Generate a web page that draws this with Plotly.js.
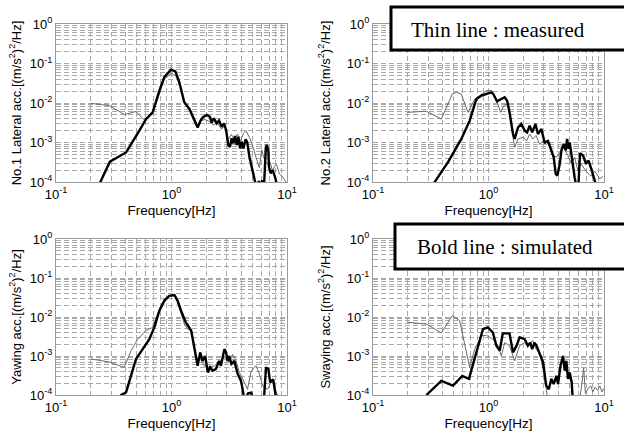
<!DOCTYPE html>
<html>
<head>
<meta charset="utf-8">
<script src="https://cdn.plot.ly/plotly-3.0.1.min.js"></script>
<style>html,body{margin:0;padding:0;background:#fff;}#chart{width:624px;height:439px;}</style>
</head>
<body>
<div id="chart"></div>
<script>
// ---------- Data ----------
// Plot 1: No.1 Lateral acc.
const p1SimF = [0.22, 0.242, 0.293, 0.404, 0.527, 0.601, 0.687, 0.785, 0.867, 0.99, 1.08, 1.17, 1.29, 1.43, 1.58, 1.685, 1.77, 1.86, 2.02, 2.15, 2.23, 2.33, 2.46, 2.58, 2.72, 2.85, 2.97, 3.10, 3.21, 3.32, 3.43, 3.55, 3.67, 3.79, 3.92, 4.05, 4.19, 4.39, 4.53, 4.72, 4.94, 5.11, 5.28, 5.45, 5.7, 5.9, 6.1, 6.3, 6.55, 6.67, 6.89, 6.98, 7.22, 7.51, 7.87, 8.14, 8.4];
const p1SimV = [6e-5, 1e-4, 3.27e-4, 5.6e-4, 2.0e-3, 3.9e-3, 5.8e-3, 2.05e-2, 4.5e-2, 7.0e-2, 6.3e-2, 3.3e-2, 1.04e-2, 7.0e-3, 3.6e-3, 2.4e-3, 3.4e-3, 4.3e-3, 5.0e-3, 4.5e-3, 3.2e-3, 4.1e-3, 3.05e-3, 3.6e-3, 2.5e-3, 3.05e-3, 2.07e-3, 8.6e-4, 7.8e-4, 1.28e-3, 9.5e-4, 1.46e-3, 8.6e-4, 1.4e-3, 7.1e-4, 1.05e-3, 7.1e-4, 1.2e-3, 1.0e-3, 4.4e-4, 2.45e-4, 1.5e-4, 1.1e-4, 7e-5, 1.05e-4, 8e-5, 1.1e-4, 6e-5, 7.1e-4, 8.7e-4, 6.5e-4, 2.4e-4, 1.66e-4, 2e-4, 1.35e-4, 9e-5, 6e-5];
const p1MeasF = [0.2, 0.29, 0.39, 0.493, 0.57, 0.64, 0.687, 0.785, 0.867, 0.99, 1.09, 1.19, 1.29, 1.43, 1.58, 1.685, 1.8, 1.95, 2.1, 2.3, 2.5, 2.7, 2.9, 3.1, 3.3, 3.5, 3.74, 3.95, 4.2, 4.42, 4.72, 5.0, 5.39, 5.76, 6.04, 6.28, 6.6, 6.9, 7.13, 7.5, 7.8, 8.1, 8.6, 9.1, 9.6, 10];
const p1MeasV = [9.8e-3, 8.6e-3, 5.1e-3, 6.1e-3, 3.9e-3, 4.5e-3, 5.5e-3, 1.86e-2, 4.0e-2, 5.6e-2, 4.9e-2, 2.75e-2, 1.05e-2, 7.8e-3, 4.3e-3, 2.7e-3, 3.6e-3, 3.8e-3, 3.5e-3, 2.8e-3, 3.2e-3, 2.2e-3, 2.6e-3, 1.2e-3, 1.6e-3, 1.2e-3, 1.64e-3, 1.1e-3, 1.7e-3, 2.0e-3, 1.35e-3, 9e-4, 4.2e-4, 2.3e-4, 6.5e-4, 4.2e-4, 3.1e-4, 2.8e-4, 3.2e-4, 1.9e-4, 2.5e-4, 2.8e-4, 1.6e-4, 1.4e-4, 1.1e-4, 9e-5];

// Plot 2: No.2 Lateral acc.
const p2SimF = [0.3, 0.342, 0.446, 0.582, 0.687, 0.785, 0.867, 0.957, 1.06, 1.1, 1.185, 1.29, 1.38, 1.45, 1.52, 1.63, 1.685, 1.8, 1.92, 2.06, 2.16, 2.27, 2.39, 2.55, 2.68, 2.87, 3.06, 3.27, 3.5, 3.67, 3.82, 3.95, 4.14, 4.28, 4.48, 4.67, 4.79, 4.95, 5.05, 5.22, 5.39, 5.57, 5.8, 6.0, 6.2, 6.6, 6.98, 7.35, 7.7, 8.3, 8.7];
const p2SimV = [5e-5, 1e-4, 3.2e-4, 1.23e-3, 3.57e-3, 1.26e-2, 1.53e-2, 1.69e-2, 1.86e-2, 1.69e-2, 1.1e-2, 1.26e-2, 1.39e-2, 1.14e-2, 5.8e-3, 1.64e-3, 1.23e-3, 2.4e-3, 2.95e-3, 2.0e-3, 1.8e-3, 2.67e-3, 1.8e-3, 2.95e-3, 1.64e-3, 2.2e-3, 1.0e-3, 1.1e-3, 6.3e-4, 4.2e-4, 1.6e-4, 1.45e-4, 2.9e-4, 6.3e-4, 9.2e-4, 6.3e-4, 1.23e-3, 6.9e-4, 1.0e-3, 4.6e-4, 2.9e-4, 1.3e-4, 7e-5, 8e-5, 5.4e-4, 4.6e-4, 2.9e-4, 3.5e-4, 2.3e-4, 1.1e-4, 7e-5];
const p2MeasF = [0.2, 0.29, 0.39, 0.486, 0.53, 0.58, 0.665, 0.76, 0.84, 0.957, 1.06, 1.17, 1.27, 1.36, 1.43, 1.52, 1.63, 1.685, 1.8, 2.0, 2.14, 2.27, 2.42, 2.58, 2.77, 2.97, 3.16, 3.38, 3.62, 3.87, 4.14, 4.48, 4.88, 5.22, 5.57, 5.96, 6.3, 6.98, 7.7, 8.3, 9.2, 9.8];
const p2MeasV = [5.8e-3, 6.2e-3, 3.9e-3, 1.69e-2, 1.86e-2, 1.69e-2, 5.8e-3, 1.26e-2, 1.53e-2, 2.05e-2, 2.1e-2, 1.26e-2, 5.8e-3, 8.5e-3, 9.4e-3, 6.4e-3, 1.36e-3, 7.5e-4, 1.23e-3, 1.36e-3, 1.1e-3, 1.64e-3, 1.23e-3, 1.5e-3, 9e-4, 1.1e-3, 9e-4, 1.0e-3, 5e-4, 4.2e-4, 5.6e-4, 7.5e-4, 4.6e-4, 2.9e-4, 4.2e-4, 1.9e-4, 2.9e-4, 1.9e-4, 1.4e-4, 1.9e-4, 1.2e-4, 1.4e-4];

// Plot 3: Yawing acc.
const p3SimF = [0.35, 0.366, 0.404, 0.446, 0.493, 0.563, 0.643, 0.71, 0.785, 0.867, 0.957, 1.06, 1.13, 1.21, 1.33, 1.48, 1.58, 1.685, 1.77, 1.86, 1.96, 2.06, 2.16, 2.27, 2.42, 2.58, 2.68, 2.87, 2.97, 3.06, 3.16, 3.3, 3.5, 3.74, 4.0, 4.14, 4.3, 4.6, 4.9, 5.1, 5.5, 6.3, 6.58, 6.9, 7.15, 7.6, 7.85, 8.1];
const p3SimV = [6e-5, 1e-4, 1.17e-4, 3.1e-4, 8.4e-4, 1.5e-3, 2.7e-3, 5.4e-3, 1.45e-2, 2.6e-2, 3.5e-2, 3.66e-2, 2.6e-2, 1.45e-2, 7.3e-3, 4.5e-3, 1.5e-3, 5.6e-4, 1.24e-3, 7.5e-4, 1.0e-3, 3.8e-4, 5.1e-4, 4.2e-4, 4.6e-4, 7.5e-4, 5.6e-4, 1.5e-3, 1.24e-3, 7.5e-4, 1.0e-3, 6.3e-4, 7.5e-4, 3.5e-4, 2.3e-4, 1.2e-4, 7e-5, 1.1e-4, 1.15e-4, 7e-5, 6e-5, 7e-5, 5.1e-4, 4.6e-4, 2.1e-4, 2.5e-4, 1.2e-4, 7e-5];
const p3MeasF = [0.2, 0.29, 0.39, 0.446, 0.51, 0.6, 0.687, 0.785, 0.867, 0.99, 1.09, 1.21, 1.29, 1.38, 1.48, 1.63, 1.75, 1.92, 2.14, 2.35, 2.58, 2.87, 3.16, 3.38, 3.62, 3.87, 4.14, 4.55, 4.9, 5.39, 5.76, 6.15, 6.8, 7.45, 8.0, 8.5];
const p3MeasV = [8.4e-4, 7.0e-4, 5.1e-4, 1.37e-3, 2.7e-3, 4.5e-3, 5.4e-3, 1.6e-2, 2.9e-2, 3.66e-2, 3.4e-2, 1.3e-2, 6.6e-3, 4.9e-3, 4.5e-3, 8.4e-4, 9.2e-4, 5.6e-4, 5.1e-4, 5.6e-4, 6.9e-4, 9.2e-4, 6.9e-4, 1.1e-3, 7.5e-4, 3.8e-4, 2.6e-4, 1.4e-4, 4.2e-4, 5.6e-4, 3.5e-4, 1.7e-4, 1.4e-4, 2.5e-4, 1.3e-4, 8e-5];

// Plot 4: Swaying acc.
const p4SimF = [0.29, 0.39, 0.493, 0.593, 0.677, 0.785, 0.895, 0.99, 1.09, 1.17, 1.25, 1.33, 1.52, 1.63, 1.75, 1.86, 2.06, 2.19, 2.3, 2.39, 2.5, 2.6, 2.77, 2.97, 3.16, 3.33, 3.5, 3.67, 3.87, 4.0, 4.2, 4.42, 4.57, 4.72, 4.88, 5.05, 5.25, 5.39];
const p4SimV = [1e-4, 2.3e-4, 1.74e-4, 3.1e-4, 2.6e-4, 1.24e-3, 4.9e-3, 5.4e-3, 4.0e-3, 1.84e-3, 1.37e-3, 3.8e-3, 3.8e-3, 1.24e-3, 1.84e-3, 3.0e-3, 2.7e-3, 1.84e-3, 2.2e-3, 1.5e-3, 2.2e-3, 1.84e-3, 1.1e-3, 6.9e-4, 1.74e-4, 1.4e-4, 2.6e-4, 1.9e-4, 3.1e-4, 1.9e-4, 5.6e-4, 1.0e-3, 4.2e-4, 7.5e-4, 2.6e-4, 3.8e-4, 2.1e-4, 6e-5];
const p4MeasF = [0.2, 0.29, 0.39, 0.486, 0.563, 0.687, 0.76, 0.867, 0.957, 1.09, 1.21, 1.29, 1.38, 1.52, 1.685, 1.86, 2.06, 2.27, 2.42, 2.58, 2.77, 3.0, 3.3, 6.0, 6.3, 6.5, 6.67, 6.9, 7.3, 7.7, 8.0, 8.4, 8.8, 9.2, 9.6, 10];
const p4MeasV = [7.3e-3, 6.6e-3, 3.9e-3, 1.08e-2, 8.0e-3, 5.1e-4, 1.5e-3, 3.3e-3, 3.4e-3, 2.7e-3, 1.84e-3, 1.0e-3, 2.2e-3, 1.84e-3, 7.5e-4, 1.84e-3, 2.2e-3, 2.0e-3, 2.5e-3, 1.5e-3, 1.24e-3, 4e-4, 6e-5, 6e-5, 1.2e-4, 2.6e-4, 4.9e-4, 1.1e-4, 1.5e-4, 1.7e-4, 1.2e-4, 1.6e-4, 1.3e-4, 1.7e-4, 1.2e-4, 1.5e-4];

// Axis labels
const xDecades = [0.1, 1, 10];
const xDecadeLabels = ['10<sup>-1</sup>', '10<sup>0</sup>', '10<sup>1</sup>'];
const yDecades = [1e-4, 1e-3, 1e-2, 1e-1, 1];
const yDecadeLabels = ['10<sup>-4</sup>', '10<sup>-3</sup>', '10<sup>-2</sup>', '10<sup>-1</sup>', '10<sup>0</sup>'];
const yTitles = [
  'No.1 Lateral acc.[(m/s<sup>2</sup>)<sup>2</sup>/Hz]',
  'No.2 Lateral acc.[(m/s<sup>2</sup>)<sup>2</sup>/Hz]',
  'Yawing acc.[(m/s<sup>2</sup>)<sup>2</sup>/Hz]',
  'Swaying acc.[(m/s<sup>2</sup>)<sup>2</sup>/Hz]'
];
const xTitle = 'Frequency[Hz]';
const legendTexts = ['Thin line : measured', 'Bold line : simulated'];

// ---------- minor grid positions (2..9 per decade) ----------
function minorTicks(decades) {
  const vals = [];
  for (let i = 0; i < decades.length - 1; i++) {
    for (let k = 2; k <= 9; k++) vals.push(k * decades[i]);
  }
  return vals;
}
const gxMinor = minorTicks(xDecades);
const gyMinor = minorTicks(yDecades);

const W = 624, H = 439;
const font = 'Liberation Sans, Arial, sans-serif';
// plot areas in px [left, right, top, bottom]
const boxes = [[56, 287, 24, 182], [373, 604, 24, 182], [56, 287, 239, 395], [373, 604, 239, 395]];
const yStand = [5, 13, 5, 13];

const sims = [[p1SimF, p1SimV], [p2SimF, p2SimV], [p3SimF, p3SimV], [p4SimF, p4SimV]];
const meas = [[p1MeasF, p1MeasV], [p2MeasF, p2MeasV], [p3MeasF, p3MeasV], [p4MeasF, p4MeasV]];

const data = [];
const layout = {
  width: W, height: H,
  margin: {l: 0, r: 0, t: 0, b: 0},
  paper_bgcolor: '#fff', plot_bgcolor: '#fff',
  showlegend: false,
  font: {family: font, color: '#000', size: 12},
  shapes: [], annotations: []
};

const gridStyle = {gridcolor: '#a8a8a8', gridwidth: 1, griddash: '5px,3px'};

boxes.forEach((b, i) => {
  const n = i + 1;
  const sfx = (n === 1 ? '' : String(n));
  const xa = 'x' + sfx, ya = 'y' + sfx;
  data.push({x: meas[i][0], y: meas[i][1], xaxis: xa, yaxis: ya, type: 'scatter', mode: 'lines',
             line: {color: '#6a6a6a', width: 1}, hoverinfo: 'skip'});
  data.push({x: sims[i][0], y: sims[i][1], xaxis: xa, yaxis: ya, type: 'scatter', mode: 'lines',
             line: {color: '#000', width: 2.4}, hoverinfo: 'skip'});
  const common = Object.assign({
    type: 'log', showline: true, mirror: true, linecolor: '#9a9a9a', linewidth: 1,
    showgrid: true, zeroline: false, ticks: '',
    tickfont: {family: font, size: 13, color: '#000'},
    automargin: false
  }, gridStyle);
  layout['xaxis' + sfx] = Object.assign({}, common, {
    domain: [b[0] / W, b[1] / W], anchor: ya, range: [-1, 1],
    tickmode: 'array', tickvals: xDecades, ticktext: xDecadeLabels,
    minor: Object.assign({tickmode: 'array', tickvals: gxMinor, showgrid: true, ticks: ''}, gridStyle),
    title: {text: xTitle, font: {family: font, size: 13.5}, standoff: 4}
  });
  layout['yaxis' + sfx] = Object.assign({}, common, {
    domain: [1 - b[3] / H, 1 - b[2] / H], anchor: xa, range: [-4, 0],
    tickmode: 'array', tickvals: yDecades, ticktext: yDecadeLabels,
    minor: Object.assign({tickmode: 'array', tickvals: gyMinor, showgrid: true, ticks: ''}, gridStyle),
    title: {text: yTitles[i], font: {family: font, size: 13}, standoff: yStand[i]}
  });
});

// legend-like boxes
const legendBoxes = [[391, 630, 7, 50], [395, 630, 224, 269]];
const legendCenters = [[498, 30], [505, 247]];
legendBoxes.forEach((r, i) => {
  layout.shapes.push({type: 'rect', xref: 'paper', yref: 'paper', layer: 'above',
    x0: r[0] / W, x1: r[1] / W, y0: 1 - r[3] / H, y1: 1 - r[2] / H,
    fillcolor: '#fff', line: {color: '#000', width: 3}});
  layout.annotations.push({xref: 'paper', yref: 'paper', x: legendCenters[i][0] / W, y: 1 - legendCenters[i][1] / H,
    xanchor: 'center', yanchor: 'middle', showarrow: false, text: legendTexts[i],
    font: {family: 'Liberation Serif, Times New Roman, serif', size: 21, color: '#000'}});
});

Plotly.newPlot('chart', data, layout, {staticPlot: true, displayModeBar: false});
</script>
</body>
</html>
